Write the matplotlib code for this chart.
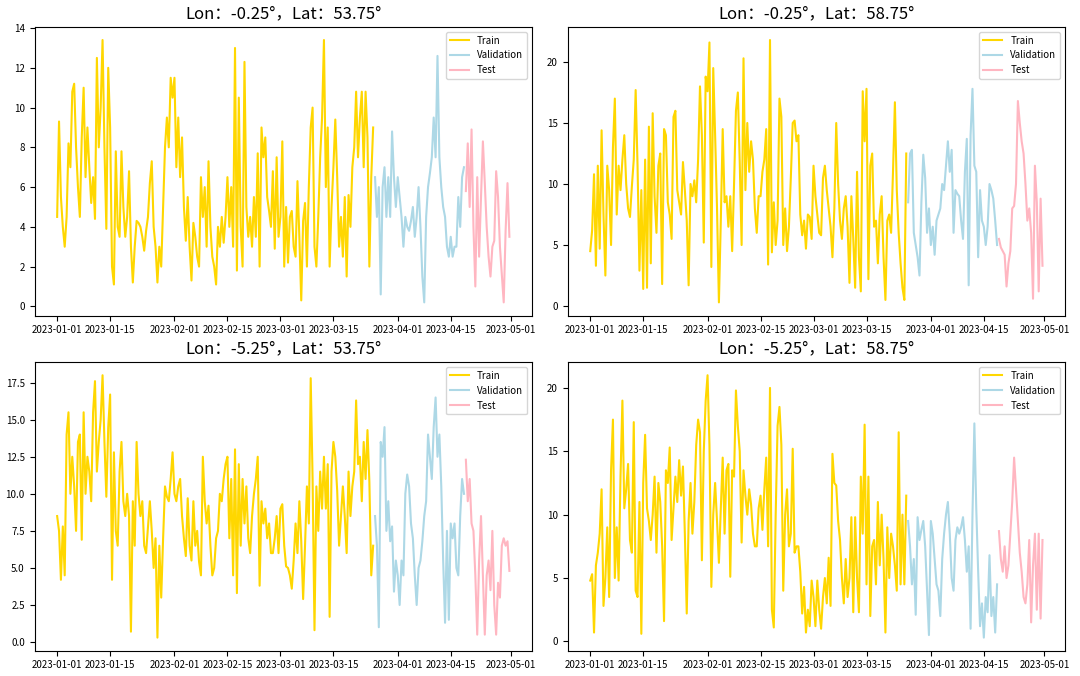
import pandas as pd
import matplotlib
matplotlib.use('Agg')
import matplotlib.pyplot as plt

# Шрифт з підтримкою китайських символів (повноширинні двокрапка та кома в заголовках)
plt.rcParams['font.family'] = ['Noto Sans CJK SC', 'DejaVu Sans']
plt.rcParams['axes.unicode_minus'] = False

# Координати точок сітки
lons = [-0.25, -0.25, -5.25, -5.25]
lats = [53.75, 58.75, 53.75, 58.75]

# Швидкість вітру, крок 12 годин, 2023-01-01 ... 2023-04-30
ws_p1 = [
    4.5, 9.3, 5.5, 4.0, 3.0, 4.5, 8.2, 7.0, 10.8, 11.2, 8.0, 6.0, 4.5, 8.5, 11.0, 6.5, 9.0, 7.0, 5.2, 6.5,
    4.4, 12.5, 8.0, 10.0, 13.4, 8.0, 3.9, 12.0, 9.0, 2.0, 1.1, 7.8, 4.0, 3.5, 7.8, 5.0, 3.5, 4.5, 6.8, 3.0,
    1.2, 3.0, 4.3, 4.2, 4.0, 3.5, 2.8, 3.8, 4.5, 6.2, 7.3, 4.0, 3.0, 1.2, 3.0, 2.0, 5.0, 8.0, 9.5, 8.0,
    11.5, 10.5, 11.5, 7.0, 9.5, 6.5, 8.5, 5.0, 3.3, 5.5, 3.0, 1.3, 4.2, 3.5, 2.5, 2.0, 6.5, 4.5, 6.0, 3.0,
    7.3, 4.0, 2.5, 2.0, 1.1, 4.0, 3.0, 4.5, 3.2, 4.5, 6.5, 4.0, 6.0, 3.0, 13.0, 1.8, 10.5, 4.0, 2.0, 12.3,
    5.0, 3.5, 4.5, 3.0, 5.5, 3.5, 7.7, 2.0, 9.0, 7.5, 8.5, 5.5, 4.8, 4.0, 6.8, 2.9, 7.5, 3.5, 4.5, 8.3,
    2.0, 5.0, 2.2, 4.5, 4.8, 3.0, 2.5, 6.3, 3.5, 0.3, 4.3, 5.2, 2.0, 6.0, 9.0, 10.0, 3.0, 2.0, 4.5, 7.5,
    9.5, 13.4, 6.0, 9.0, 2.0, 5.0, 7.0, 9.4, 6.5, 3.0, 4.5, 2.5, 5.5, 1.5, 5.6, 4.0, 7.0, 8.0, 10.8, 7.5,
    9.5, 10.8, 7.0, 10.8, 8.5, 2.0, 6.5, 9.0, 6.5, 4.5, 6.0, 0.6, 6.0, 7.0, 4.5, 6.5, 4.5, 8.8, 6.5, 5.0,
    6.5, 5.5, 4.5, 3.0, 4.5, 4.0, 3.8, 4.3, 5.0, 3.5, 4.5, 6.0, 4.0, 1.5, 0.2, 4.5, 6.0, 6.7, 7.5, 9.5,
    7.5, 12.6, 7.5, 6.0, 5.0, 4.5, 3.0, 2.5, 3.5, 2.5, 3.0, 3.0, 5.5, 4.0, 6.5, 7.0, 5.8, 8.2, 5.0, 8.9,
    4.0, 1.0, 6.5, 2.5, 5.5, 8.3, 6.2, 4.0, 2.5, 1.5, 3.0, 3.3, 6.8, 5.5, 3.0, 1.6, 0.2, 3.8, 6.2, 3.5,
]
ws_p2 = [
    4.5, 6.2, 10.8, 3.3, 11.5, 4.7, 14.4, 7.5, 2.5, 11.5, 9.5, 5.0, 13.0, 17.0, 7.5, 11.5, 9.5, 12.0, 14.0, 10.0,
    8.0, 7.3, 9.8, 12.0, 17.7, 11.5, 2.9, 9.5, 1.4, 12.0, 1.5, 14.7, 3.5, 15.8, 9.0, 6.0, 11.5, 12.5, 1.8, 14.5,
    14.0, 8.5, 7.5, 5.5, 15.5, 16.0, 9.5, 8.5, 7.5, 11.8, 9.5, 7.0, 1.7, 10.0, 9.0, 10.3, 8.5, 12.0, 18.0, 14.0,
    5.2, 18.8, 17.6, 21.6, 3.2, 19.5, 14.0, 8.0, 0.3, 7.0, 14.5, 8.5, 9.0, 6.5, 9.0, 4.5, 10.0, 16.0, 17.5, 11.8,
    5.0, 20.3, 9.5, 15.0, 11.0, 13.5, 12.0, 8.0, 6.0, 9.0, 9.0, 11.0, 12.0, 14.5, 3.4, 21.8, 4.4, 8.5, 5.0, 7.0,
    17.0, 15.5, 5.0, 8.0, 4.5, 6.5, 10.5, 15.0, 15.2, 13.5, 14.0, 7.5, 5.8, 7.0, 4.7, 7.5, 7.3, 5.5, 11.5, 9.0,
    7.5, 6.0, 5.8, 10.5, 11.5, 9.5, 8.0, 6.5, 4.0, 8.0, 15.0, 10.0, 7.0, 5.5, 8.0, 9.0, 6.5, 1.9, 9.0, 5.5,
    1.5, 11.0, 4.0, 1.2, 17.6, 13.5, 17.8, 2.2, 11.5, 12.5, 6.5, 7.0, 3.5, 7.5, 9.0, 4.0, 0.5, 7.0, 7.5, 6.0,
    11.0, 16.7, 9.5, 6.0, 3.5, 1.5, 0.5, 12.5, 8.5, 12.5, 12.8, 6.0, 5.0, 4.0, 2.5, 8.5, 12.4, 10.5, 6.0, 8.0,
    5.0, 6.5, 4.2, 7.0, 7.5, 8.0, 10.0, 9.5, 11.5, 13.5, 11.0, 12.8, 6.0, 9.5, 9.2, 9.0, 7.0, 5.5, 11.0, 13.7,
    1.7, 14.0, 17.8, 11.5, 11.0, 4.0, 9.5, 7.0, 6.5, 5.0, 6.5, 10.0, 9.5, 8.8, 7.0, 5.0, 5.5, 4.8, 4.5, 4.2,
    1.6, 3.5, 4.5, 8.0, 8.2, 10.0, 16.8, 15.0, 13.5, 12.5, 10.0, 7.0, 8.0, 6.0, 0.6, 11.5, 8.5, 1.2, 8.8, 3.3,
]
ws_p3 = [
    8.5, 7.5, 4.2, 7.8, 4.5, 14.0, 15.5, 10.0, 12.5, 10.5, 7.5, 13.5, 14.0, 6.9, 15.5, 10.0, 12.5, 11.5, 9.5, 15.5,
    17.6, 11.5, 13.5, 15.0, 18.0, 13.5, 9.8, 14.5, 16.7, 4.2, 12.8, 7.5, 6.5, 11.5, 13.5, 9.5, 8.5, 10.0, 8.5, 0.7,
    9.5, 6.5, 13.5, 10.0, 8.5, 9.5, 6.5, 6.0, 7.8, 9.5, 7.5, 5.0, 7.0, 0.3, 6.5, 3.0, 7.0, 10.5, 9.8, 9.5,
    11.0, 12.8, 10.0, 9.5, 10.5, 11.0, 8.5, 7.0, 5.8, 9.7, 6.5, 5.5, 9.5, 6.5, 7.5, 5.4, 4.5, 12.5, 9.5, 8.0,
    9.2, 6.5, 4.5, 5.0, 7.0, 7.5, 10.0, 9.5, 11.0, 12.0, 12.5, 7.0, 11.0, 4.5, 13.0, 3.3, 12.0, 6.5, 11.0, 8.0,
    10.5, 7.0, 6.0, 8.5, 10.0, 11.0, 12.5, 3.8, 9.5, 8.0, 9.0, 7.0, 8.0, 6.0, 6.0, 7.0, 8.5, 6.0, 9.0, 9.3,
    6.5, 5.1, 5.0, 4.5, 3.6, 5.5, 8.0, 6.0, 9.5, 6.8, 2.9, 6.5, 10.5, 8.0, 17.8, 11.0, 0.8, 10.5, 7.5, 11.5,
    9.0, 12.5, 9.0, 12.0, 1.7, 11.5, 13.5, 12.5, 10.2, 6.5, 8.5, 10.5, 8.5, 6.0, 11.5, 8.5, 10.5, 11.5, 16.3, 12.0,
    12.5, 9.5, 13.5, 11.0, 14.3, 10.8, 4.5, 6.5, 8.5, 6.5, 1.0, 13.5, 12.5, 14.5, 7.5, 9.5, 6.8, 7.8, 3.4, 5.5,
    4.5, 2.5, 5.5, 4.5, 10.0, 11.3, 10.5, 8.0, 7.0, 4.5, 2.5, 5.0, 5.5, 6.8, 8.5, 9.5, 14.0, 12.5, 11.0, 14.5,
    16.5, 12.5, 14.0, 10.5, 5.5, 1.3, 7.5, 1.5, 8.0, 7.0, 8.0, 5.0, 4.5, 8.5, 11.0, 10.0, 12.3, 9.5, 11.0, 8.0,
    7.5, 4.5, 0.5, 5.5, 8.5, 4.5, 0.5, 4.5, 5.5, 3.5, 7.5, 2.5, 0.5, 4.0, 3.0, 6.5, 7.0, 6.5, 6.8, 4.8,
]
ws_p4 = [
    4.8, 5.3, 0.7, 6.0, 7.0, 8.5, 12.0, 2.8, 5.0, 9.0, 3.5, 13.5, 17.5, 5.0, 9.0, 4.8, 13.0, 19.0, 10.5, 12.0,
    14.0, 8.0, 7.0, 17.3, 4.0, 3.5, 11.0, 0.6, 12.5, 16.3, 10.5, 9.5, 8.0, 10.0, 13.0, 7.0, 12.5, 11.0, 7.5, 1.6,
    13.5, 12.5, 15.3, 8.0, 10.5, 13.0, 11.0, 14.3, 11.5, 13.8, 8.5, 2.2, 9.5, 12.5, 8.5, 11.0, 15.5, 17.5, 16.5, 6.4,
    15.0, 19.0, 21.0, 15.5, 4.3, 10.0, 12.5, 9.5, 6.2, 10.5, 14.5, 8.5, 13.5, 14.0, 5.1, 13.5, 13.0, 19.8, 17.0, 15.0,
    7.8, 13.5, 11.5, 10.0, 12.0, 10.8, 8.5, 7.5, 7.5, 10.5, 11.5, 8.8, 12.0, 14.5, 7.5, 20.0, 2.5, 1.1, 10.0, 17.0,
    18.5, 15.5, 4.0, 10.0, 12.0, 7.5, 8.5, 15.2, 7.0, 7.5, 7.5, 5.5, 2.2, 4.3, 0.7, 2.5, 1.2, 4.8, 3.5, 1.2,
    4.8, 2.5, 1.0, 3.5, 5.0, 3.0, 6.6, 2.8, 14.8, 12.5, 12.3, 9.5, 8.0, 5.0, 3.0, 6.5, 3.5, 5.0, 9.8, 2.3,
    9.8, 5.0, 2.3, 13.0, 8.5, 17.1, 4.5, 13.0, 2.0, 7.5, 8.0, 4.5, 11.0, 6.0, 10.0, 6.5, 0.7, 9.0, 5.0, 8.5,
    7.5, 6.0, 4.0, 16.5, 4.5, 10.0, 4.5, 11.5, 9.5, 7.5, 4.5, 6.5, 2.1, 9.8, 8.0, 8.8, 9.5, 7.5, 4.0, 0.5,
    9.5, 8.5, 6.5, 4.5, 4.0, 2.0, 6.5, 8.5, 10.0, 11.0, 8.5, 5.0, 4.0, 8.0, 9.0, 8.5, 9.0, 9.8, 8.0, 5.5,
    7.5, 1.0, 10.0, 17.2, 10.5, 5.5, 1.2, 3.0, 0.3, 3.5, 2.3, 6.8, 2.0, 3.5, 0.7, 4.5, 8.7, 6.5, 5.5, 7.5,
    5.0, 6.0, 8.5, 11.0, 14.5, 12.0, 9.5, 7.0, 5.5, 3.5, 3.0, 4.5, 8.0, 1.5, 6.0, 8.5, 2.5, 8.5, 1.8, 8.0,
]

# Частки розбиття: 70% / 20% / 10%
train_ratio = 0.7
val_ratio = 0.2


def split_series(series):
    """Розбиття ряду на train / validation / test."""
    n = len(series)
    n_train = int(n * train_ratio)
    n_val = int(n * val_ratio)
    return (series.iloc[:n_train],
            series.iloc[n_train:n_train + n_val],
            series.iloc[n_train + n_val:])


def plot_point(ax, series, lon, lat):
    """Малюємо один вузол сітки."""
    train, val, test = split_series(series)
    ax.plot(train.index, train.values, color='gold', lw=1.5, label='Train')
    ax.plot(val.index, val.values, color='lightblue', lw=1.5, label='Validation')
    ax.plot(test.index, test.values, color='lightpink', lw=1.5, label='Test')
    ax.set_title(f'Lon：{lon}°，Lat：{lat}°', fontsize=12)
    ax.tick_params(labelsize=7)
    ax.legend(loc='upper right', fontsize=7)


def main():
    dates = pd.date_range('2023-01-01', periods=len(ws_p1), freq='12h')
    all_ws = [ws_p1, ws_p2, ws_p3, ws_p4]

    fig, axes = plt.subplots(2, 2, figsize=(10.8, 6.76), dpi=100)
    for ax, ws, lon, lat in zip(axes.flat, all_ws, lons, lats):
        plot_point(ax, pd.Series(ws, index=dates), lon, lat)

    plt.tight_layout(pad=0.4)
    plt.savefig('out.png', dpi=100)


if __name__ == "__main__":
    main()
